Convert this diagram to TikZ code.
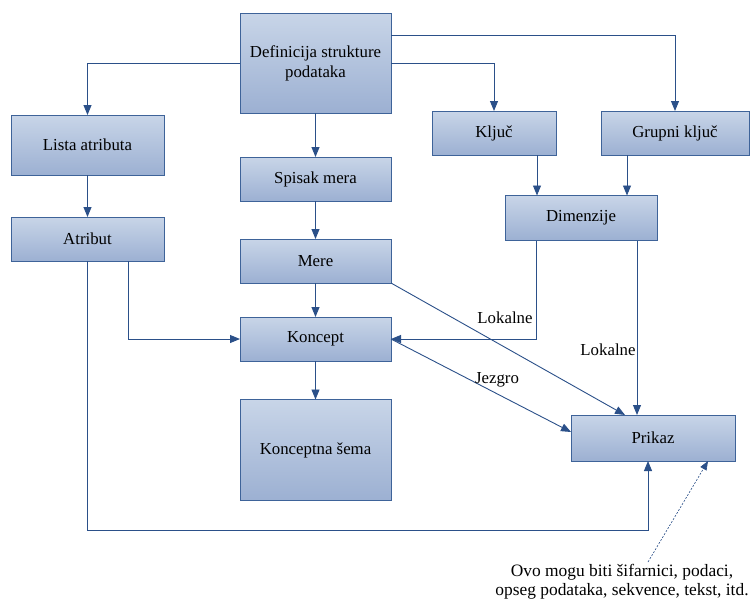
\documentclass[tikz,border=0pt]{standalone}
\usepackage{fontspec}
\setmainfont{Liberation Serif}
\usetikzlibrary{arrows.meta}
\definecolor{boxtop}{HTML}{C8D5E8}
\definecolor{boxbot}{HTML}{9CB0D2}
\definecolor{boxline}{HTML}{3E6399}
\definecolor{wire}{HTML}{2B5089}
\begin{document}
\begin{tikzpicture}[x=1pt,y=-1pt,
  box/.style={draw=boxline, line width=1pt, top color=boxtop, bottom color=boxbot,
    inner sep=0pt, outer sep=0pt, align=center,
    font=\fontsize{16.8}{20}\selectfont},
  wirearrow/.style={draw=wire, line width=0.9pt,
    -{Triangle[length=10pt,width=8pt]}},
  pointer/.style={draw=wire, line width=0.6pt, dash pattern=on 2pt off 1.5pt,
    -{Triangle[length=9pt,width=7pt]}},
  note/.style={font=\fontsize{16.8}{20}\selectfont, inner sep=0pt}]
\useasboundingbox (0,0) rectangle (750,600);

% boxes
\node[box, minimum width=151pt, minimum height=100pt] (def) at (315.5,63) {Definicija strukture\\podataka};
\node[box, minimum width=153pt, minimum height=60pt] (lista) at (87.5,145) {Lista atributa};
\node[box, minimum width=153pt, minimum height=44pt] (atribut) at (87.5,239) {Atribut};
\node[box, minimum width=151pt, minimum height=44pt] (spisak) at (315.5,179) {Spisak mera};
\node[box, minimum width=151pt, minimum height=44pt] (mere) at (315.5,261) {Mere};
\node[box, minimum width=151pt, minimum height=44pt] (koncept) at (315.5,339) {Koncept};
\node[box, minimum width=151pt, minimum height=101pt] (sema) at (315.5,450) {Konceptna šema};
\node[box, minimum width=124pt, minimum height=44pt] (kljuc) at (494,133) {Ključ};
\node[box, minimum width=148pt, minimum height=44pt] (grupni) at (675,133) {Grupni ključ};
\node[box, minimum width=152pt, minimum height=45pt] (dim) at (581,218) {Dimenzije};
\node[box, minimum width=164pt, minimum height=46pt] (prikaz) at (653,438) {Prikaz};

% bottom annotation
\node[note, align=center, font=\fontsize{17.4}{19}\selectfont] (napomena) at (622,582) {Ovo mogu biti šifarnici, podaci,\\opseg podataka, sekvence, tekst, itd.};

% connectors from the data structure definition
\draw[wirearrow] (def.west) -| (lista.north);
\draw[wirearrow] (def.south) -- (spisak.north);
\draw[wirearrow] (def.east) -| (kljuc.north);
\draw[wirearrow] ([yshift=28pt]def.east) -| (grupni.north);

% vertical chains
\draw[wirearrow] (lista.south) -- (atribut.north);
\draw[wirearrow] (spisak.south) -- (mere.north);
\draw[wirearrow] (mere.south) -- (koncept.north);
\draw[wirearrow] (koncept.south) -- (sema.north);

% keys into dimensions
\draw[wirearrow] ([xshift=43pt]kljuc.south) -- ([xshift=43pt]kljuc.south |- dim.north);
\draw[wirearrow] ([xshift=-48pt]grupni.south) -- ([xshift=-48pt]grupni.south |- dim.north);

% attribute links
\draw[wirearrow] ([xshift=41pt]atribut.south) |- (koncept.west);
\coordinate (dno) at (648,530);
\draw[wirearrow] (atribut.south) |- (dno) -- (dno |- prikaz.south);

% dimension links
\draw[wirearrow] ([xshift=-45pt]dim.south) |- (koncept.east);
\node[note] (lok1) at (505,318) {Lokalne};
\draw[wirearrow] ([xshift=56pt]dim.south) -- ([xshift=56pt]dim.south |- prikaz.north);
\node[note] (lok2) at (608,350) {Lokalne};

% into the view
\draw[wirearrow] (mere.south east) -- ([xshift=-28pt]prikaz.north);
\draw[wirearrow] (koncept.east) -- ([yshift=6pt]prikaz.west);
\node[note] (jezgro) at (497,380) {Jezgro};

% annotation pointer
\coordinate (napvrh) at (648,562);
\draw[pointer] (napvrh) -- ([xshift=55pt]prikaz.south);
\end{tikzpicture}
\end{document}
